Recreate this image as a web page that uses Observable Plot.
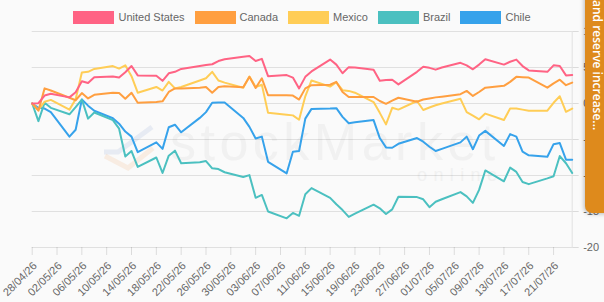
<!DOCTYPE html>
<html>
<head>
<meta charset="utf-8">
<script src="https://cdn.jsdelivr.net/npm/d3@7"></script>
<script src="https://cdn.jsdelivr.net/npm/@observablehq/plot@0.6"></script>
<style>
  html, body { margin: 0; padding: 0; background: #fafafa; overflow: hidden; }
  #wrap { position: relative; width: 604px; height: 302px; font-family: "Liberation Sans", Arial, sans-serif; }
  #chart { position: absolute; left: 0; top: 0; }
  .wm-main { position: absolute; left: 170px; top: 122px; height: 40px; font-size: 52px; line-height: 40px; letter-spacing: 4.5px; color: #f1f1f1; white-space: nowrap; }
  .wm-sub { position: absolute; left: 417px; top: 167px; height: 16px; font-size: 18px; line-height: 16px; letter-spacing: 6.4px; color: #f1f1f1; white-space: nowrap; }
  .wm-logo { position: absolute; left: 0; top: 0; }
  #legend { position: absolute; left: 0; top: 10.5px; width: 604px; display: flex; justify-content: center; gap: 10px; font-size: 11px; color: #666; }
  .item { display: flex; align-items: center; gap: 4px; height: 13px; }
  .swatch { width: 41px; height: 13px; }
  #tab { position: absolute; left: 585px; top: -6px; width: 25px; height: 219px; background: #de8a1c; border-bottom-left-radius: 7px; box-shadow: -1px 1px 4px rgba(0,0,0,0.25); overflow: hidden; }
  #tab span { position: absolute; left: 4px; bottom: 83px; writing-mode: vertical-rl; white-space: nowrap; color: #fff; font: 600 12px "Open Sans", "Liberation Sans", sans-serif; }
</style>
</head>
<body>
<div id="wrap">
  <svg class="wm-logo" width="604" height="302">
    <polyline points="104,152 118,152 152,127" fill="none" stroke="rgba(70,110,190,0.10)" stroke-width="5"/>
    <polyline points="105,156 128,168 153,148" fill="none" stroke="rgba(240,140,60,0.12)" stroke-width="5"/>
  </svg>
  <div class="wm-main">stockMarket</div>
  <div class="wm-sub">online</div>
  <div id="chart"></div>
  <div id="legend"></div>
  <div id="tab"><span>Gold and reserve increase...</span></div>
</div>
<script>
// Trading days (dd/mm/yy)
const dates = [
  "28/04/26","29/04/26","30/04/26","01/05/26",
  "04/05/26","05/05/26","06/05/26","07/05/26","08/05/26",
  "11/05/26","12/05/26","13/05/26","14/05/26","15/05/26",
  "18/05/26","19/05/26","20/05/26","21/05/26","22/05/26",
  "25/05/26","26/05/26","27/05/26","28/05/26","29/05/26",
  "01/06/26","02/06/26","03/06/26","04/06/26","05/06/26",
  "08/06/26","09/06/26","10/06/26","11/06/26","12/06/26",
  "15/06/26","16/06/26","17/06/26","18/06/26","19/06/26",
  "22/06/26","23/06/26","24/06/26","25/06/26","26/06/26",
  "29/06/26","30/06/26","01/07/26","02/07/26","03/07/26",
  "06/07/26","07/07/26","08/07/26","09/07/26","10/07/26",
  "13/07/26","14/07/26","15/07/26","16/07/26","17/07/26",
  "20/07/26","21/07/26","22/07/26","23/07/26","24/07/26"
];

// Cumulative change (%) per country
const unitedStates = [
  0, 0.05, 1.1, 1.35,
  0.85, 1.55, 3.1, 2.85, 3.65,
  3.75, 3.6, 4.35, 5.2, 3.9,
  3.85, 3.15, 4.2, 4.4, 4.8,
  5.2, 5.35, 5.45, 5.9, 6.15,
  6.5, 6.6, 5.9, 6.2, 3.8,
  3.95, 3.6, 2.1, 3.7, 4.45,
  6.1, 5.4, 4.2, 5.05, 5.0,
  4.7, 3.15, 3.25, 3.3, 2.65,
  4.4, 5.1, 4.95, 4.7, 5.0,
  5.65, 5.3, 4.75, 5.4, 6.15,
  5.4, 5.8, 6.1, 5.2, 4.6,
  4.4, 5.3, 5.2, 3.9, 3.95
];
const canada = [
  0, -1.0, 2.1, 1.8,
  0.8, 0.45, 1.45, 0.7, 1.2,
  1.5, 1.45, 0.65, 1.5, 0.1,
  0.2, 0.3, 1.6, 2.1, 2.1,
  2.2, 2.3, 1.5, 2.3, 2.4,
  2.25, 3.7, 2.15, 3.5, 1.15,
  1.15, 1.1, 0.55, 2.1, 2.55,
  2.6, 3.0, 1.6, 0.9, 0.9,
  0.9, 0.35, -0.05, 0.4, 0.8,
  0.25, 0.55, 0.7, 0.85, 0.95,
  1.3, 1.75, 1.05, 1.6, 2.2,
  2.45, 3.0, 3.7, 3.65, 3.6,
  2.2, 2.8, 3.3, 2.55, 2.9
];
const mexico = [
  0, -0.9, 0.25, 0.5,
  -0.85, 0.6, 4.3, 4.4, 4.8,
  5.2, 4.85, 5.3, 3.8, 1.5,
  2.3, 1.8, 3.0, 2.1, 2.3,
  3.2, 3.5, 4.4, 3.2, 2.9,
  2.2, 3.75, 2.3, 2.6, -1.3,
  -1.55, -1.65, -2.25, 1.0, 3.2,
  2.35, 2.95, 1.85, 1.75, 1.5,
  0.2, -1.3, -2.9, -0.6, -0.85,
  0.35, -0.9, -0.55, -0.25, 0.0,
  0.65, -1.2, -1.7, -2.2, -1.4,
  -2.3, -0.7, -0.7, -0.85, -1.0,
  -1.0, 0.1, 1.0, -1.15, -0.7
];
const brazil = [
  0, -2.45, 0.1, -0.6,
  -1.5, -0.5, 0.55, -2.1, -1.25,
  -2.3, -3.5, -7.35, -6.6, -8.8,
  -7.5, -9.65, -7.25, -6.55, -8.3,
  -8.15, -8.0, -9.0, -9.1, -9.55,
  -10.2, -9.95, -13.1, -12.7, -15.0,
  -15.95, -15.2, -15.6, -12.6, -11.75,
  -13.1, -14.0, -14.8, -15.75, -15.3,
  -14.05, -14.55, -15.35, -14.7, -12.95,
  -13.0, -13.3, -14.4, -13.65, -13.3,
  -12.3, -12.9, -13.8, -12.0, -9.3,
  -10.8, -8.9, -9.5, -10.9, -11.2,
  -10.4, -10.1, -7.3, -8.3, -9.65
];
const chile = [
  0, -0.6, -0.7, -1.2,
  -4.6, -3.65, 0.55, -0.3, -1.0,
  -2.05, -2.8, -3.9, -4.6, -6.75,
  -5.4, -6.3, -3.3, -2.95, -4.0,
  -2.0, -1.2, 0.1, 0.15, 0.15,
  -2.0, -3.25, -4.85, -4.6, -8.1,
  -9.7, -6.7, -6.6, -2.1, -0.75,
  -0.7, -0.65, -1.85, -2.75, -2.6,
  -2.3, -4.8, -6.1, -6.15, -5.6,
  -4.8, -5.3, -6.0, -6.6, -6.3,
  -5.4, -4.6, -6.35, -4.45, -3.8,
  -5.9, -4.25, -4.6, -6.7, -7.2,
  -7.4, -5.65, -5.5, -7.8, -7.8
];

const countries = ["United States", "Canada", "Mexico", "Brazil", "Chile"];
const seriesValues = [unitedStates, canada, mexico, brazil, chile];

const xTickLabels = [
  "28/04/26","02/05/26","06/05/26","10/05/26","14/05/26","18/05/26",
  "22/05/26","26/05/26","30/05/26","03/06/26","07/06/26","11/06/26",
  "15/06/26","19/06/26","23/06/26","27/06/26","01/07/26","05/07/26",
  "09/07/26","13/07/26","17/07/26","21/07/26"
];
const yTickValues = [-20, -15, -10, -5, 0, 5, 10];

const palette = ["rgb(255,99,132)", "rgb(255,159,64)", "rgb(255,205,86)", "rgb(75,192,192)", "rgb(54,162,235)"];

const parse = d3.utcParse("%d/%m/%y");
const fmt = d3.utcFormat("%d/%m/%y");
const xTicks = xTickLabels.map(parse);

// First series drawn last so it sits on top
const rows = countries.slice().reverse().flatMap((name) => {
  const values = seriesValues[countries.indexOf(name)];
  return dates.map((d, i) => ({country: name, date: parse(d), value: values[i]}));
});

const chart = Plot.plot({
  width: 604,
  height: 302,
  marginTop: 31,
  marginBottom: 55,
  marginLeft: 31.7,
  marginRight: 32.3,
  style: {background: "transparent", fontFamily: "'Liberation Sans', Arial, sans-serif", fontSize: "11px", overflow: "visible"},
  x: {type: "utc", domain: [parse(dates[0]), parse(dates[dates.length - 1])], label: null},
  y: {domain: [-20, 10], label: null},
  color: {domain: countries, range: palette},
  marks: [
    Plot.gridY(yTickValues, {stroke: "#000", strokeOpacity: 0.1}),
    Plot.frame({anchor: "right", stroke: "#000", strokeOpacity: 0.1}),
    // x ticks
    Plot.axisX(xTicks, {tickSize: 8, tickFormat: () => "", stroke: "#000", strokeOpacity: 0.12, label: null}),
    // x tick labels
    Plot.axisX(xTicks, {tickSize: 0, tickPadding: 16.5, dx: 3, tickRotate: -45, tickFormat: fmt, fill: "#666", label: null}),
    // y ticks on the right
    Plot.axisY(yTickValues, {anchor: "right", tickSize: 6, tickFormat: () => "", stroke: "#000", strokeOpacity: 0.12, label: null}),
    Plot.axisY(yTickValues, {anchor: "right", tickSize: 0, tickPadding: 11, tickFormat: (d) => String(d), fill: "#666", label: null}),
    Plot.lineY(rows, {x: "date", y: "value", z: "country", stroke: "country", strokeWidth: 2, strokeLinejoin: "round"})
  ]
});
document.getElementById("chart").appendChild(chart);

// Legend
const legend = document.getElementById("legend");
countries.forEach((name, i) => {
  const item = document.createElement("div");
  item.className = "item";
  const sw = document.createElement("div");
  sw.className = "swatch";
  sw.style.background = palette[i];
  const label = document.createElement("span");
  label.textContent = name;
  item.appendChild(sw);
  item.appendChild(label);
  legend.appendChild(item);
});
</script>
</body>
</html>
